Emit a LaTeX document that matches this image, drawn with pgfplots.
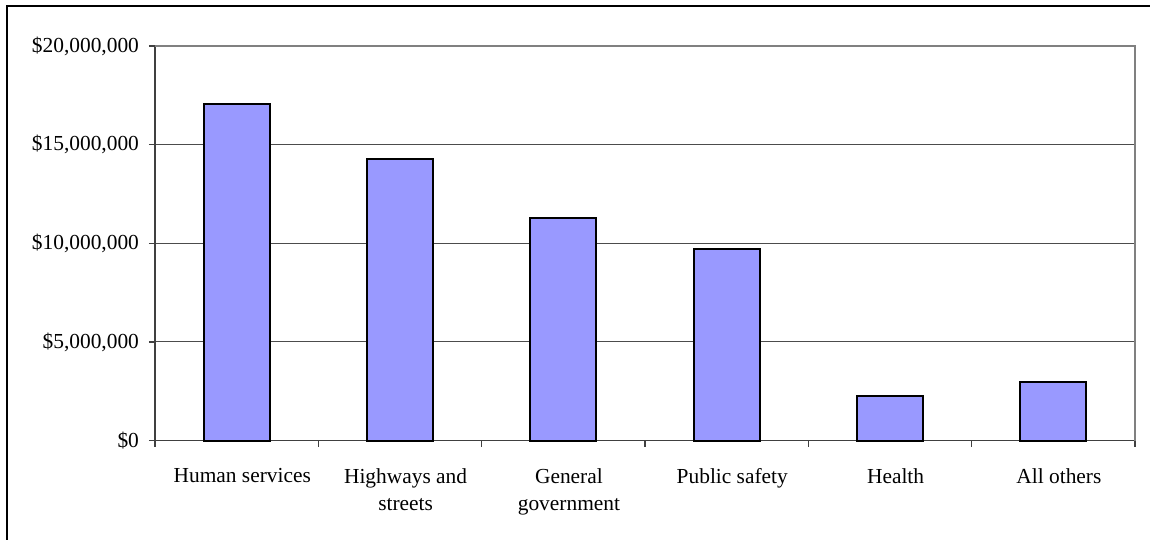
\documentclass[border=0pt]{standalone}
\usepackage{fontspec}
\setmainfont{Liberation Serif}
\usepackage{pgfplots}
\pgfplotsset{compat=1.18}
\definecolor{barfill}{HTML}{9999FF}
\begin{document}
\begin{tikzpicture}
\path[use as bounding box] (-77.5pt,-49.7pt) rectangle (497.5pt,220.3pt);
\draw[black, line width=0.75pt] (-74pt,-60pt) -- (-74pt,217.3pt) -- (510pt,217.3pt);
\begin{axis}[
  at={(0,0)}, anchor=south west,
  scale only axis, width=490pt, height=197.3pt,
  xmin=-0.5, xmax=5.5, ymin=0, ymax=20,
  ybar, bar width=33pt,
  axis x line*=bottom, axis y line*=left,
  axis line style={-, draw=black!75, line width=0.75pt},
  xtick={0,1,2,3,4,5},
  xticklabels={Human services, Highways and\\streets, General\\government, Public safety, Health, All others},
  x tick label style={align=center, font=\fontsize{10.7}{13.3}\selectfont, yshift=-7.5pt, xshift=2.8pt},
  major x tick style={draw=none},
  extra x ticks={-0.5,0.5,1.5,2.5,3.5,4.5,5.5},
  extra x tick labels={},
  extra x tick style={major tick length=3pt, tick align=outside, major x tick style={draw=black!75, line width=0.6pt}, tick style={draw=black!75, line width=0.6pt}},
  ytick={0,5,10,15,20},
  yticklabels={{\$0},{\$5,000,000},{\$10,000,000},{\$15,000,000},{\$20,000,000}},
  y tick label style={font=\fontsize{10.7}{12.8}\selectfont, xshift=-1.5pt},
  ytick align=outside, major tick length=3pt,
  y tick style={draw=black!75, line width=0.6pt},
  ymajorgrids, grid style={black!70, line width=0.5pt},
  clip=false,
]
\addplot[fill=barfill, draw=black, line width=1pt] coordinates {
  (0,17.07) (1,14.28) (2,11.27) (3,9.70) (4,2.26) (5,2.96)
};
\draw[gray, line width=1pt] (rel axis cs:0,1) -- (rel axis cs:1,1) -- (rel axis cs:1,0);
\end{axis}
\end{tikzpicture}
\end{document}
